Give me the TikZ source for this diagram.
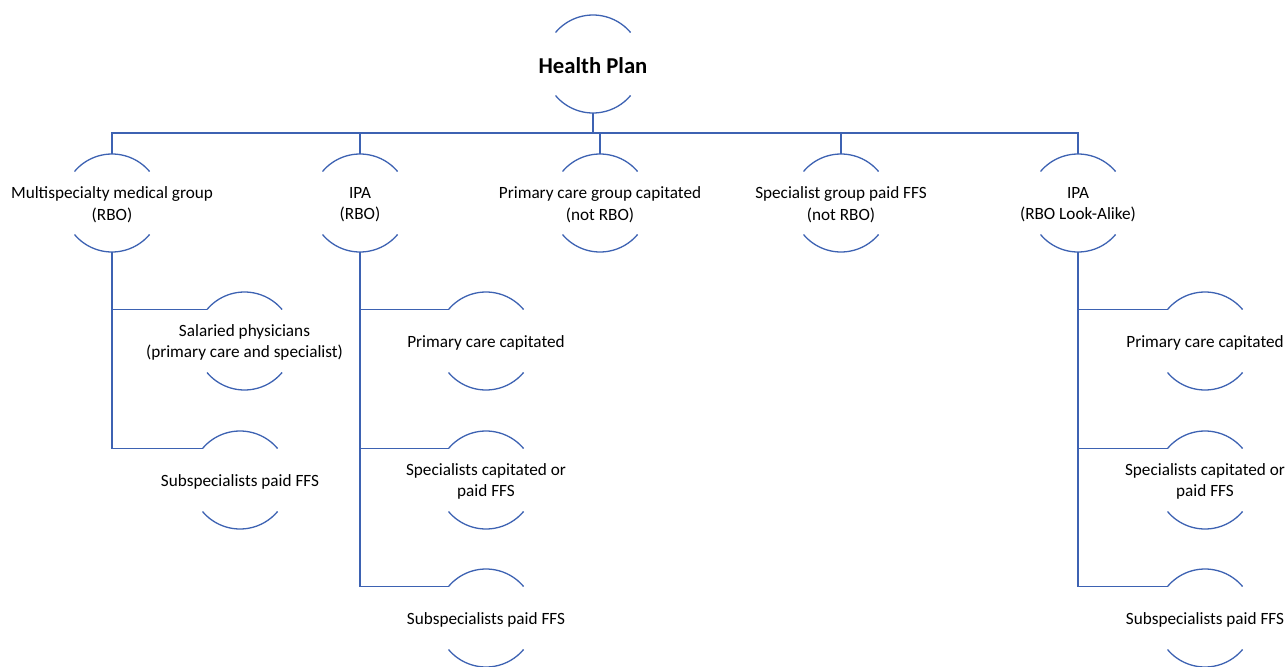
\documentclass[tikz,border=0pt]{standalone}
\usepackage{fontspec}
\setmainfont{Carlito}
\usetikzlibrary{calc}
\definecolor{lineblue}{HTML}{3D62B2}
\tikzset{
  ln/.style={draw=lineblue, line width=1.3pt},
  lbl/.style={inner sep=0pt, align=center, yshift=-1.5pt, font=\fontsize{17.2}{21.5}\selectfont, text=black},
  toplbl/.style={inner sep=0pt, align=center, yshift=-1.5pt, font=\fontsize{22.7}{26}\selectfont\bfseries, text=black}
}
\newcommand{\orgunit}[5][lbl]{%
  \node[#1] (#2) at (#3,#4) {#5};
  \coordinate (#2-t) at ($(#3,#4)+(0,-49)$);
  \coordinate (#2-b) at ($(#3,#4)+(0,49)$);
  \coordinate (#2-l) at ($(#3,#4)+(-37.5,-31.5)$);
  \draw[ln] ($(#3,#4)+(-37.5,-31.5)$) arc[start angle=220, end angle=320, radius=49];
  \draw[ln] ($(#3,#4)+(-37.5,31.5)$) arc[start angle=140, end angle=40, radius=49];
}
\begin{document}
\begin{tikzpicture}[x=1pt,y=-1pt]
\useasboundingbox (0,0) rectangle (1286,667);
% top
\orgunit[toplbl]{hp}{593}{64}{Health Plan}
% level 1
\orgunit{msg}{112}{203}{Multispecialty medical group\\(RBO)}
\orgunit{ipa}{360}{203}{IPA\\(RBO)}
\orgunit{pcg}{600}{203}{Primary care group capitated\\(not RBO)}
\orgunit{spg}{841}{203}{Specialist group paid FFS\\(not RBO)}
\orgunit{ipl}{1078}{203}{IPA\\(RBO Look-Alike)}
% level 2
\orgunit{sal}{244.5}{341}{Salaried physicians\\(primary care and specialist)}
\orgunit{msub}{240}{480}{Subspecialists paid FFS}
\orgunit{ipc}{486}{341}{Primary care capitated}
\orgunit{isc}{486}{480}{Specialists capitated or\\paid FFS}
\orgunit{isub}{486}{618}{Subspecialists paid FFS}
\orgunit{lpc}{1205}{341}{Primary care capitated}
\orgunit{lsc}{1205}{480}{Specialists capitated or\\paid FFS}
\orgunit{lsub}{1205}{618}{Subspecialists paid FFS}
% connectors level 0 -> 1
\draw[ln] (hp-b) -- ++(0,20) coordinate (bus);
\foreach \c in {msg,ipa,pcg,spg,ipl} { \draw[ln] (bus) -| (\c-t); }
% connectors level 1 -> 2
\draw[ln] (msg-b) |- (sal-l);
\draw[ln] (msg-b) |- (msub-l);
\draw[ln] (ipa-b) |- (ipc-l);
\draw[ln] (ipa-b) |- (isc-l);
\draw[ln] (ipa-b) |- (isub-l);
\draw[ln] (ipl-b) |- (lpc-l);
\draw[ln] (ipl-b) |- (lsc-l);
\draw[ln] (ipl-b) |- (lsub-l);
\end{tikzpicture}
\end{document}
